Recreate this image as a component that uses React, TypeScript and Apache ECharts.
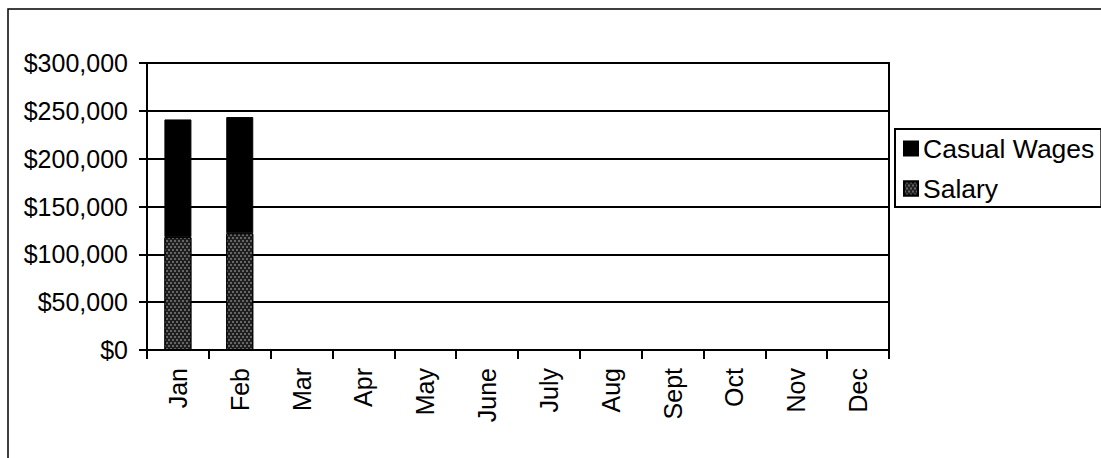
import React, { useEffect, useRef } from "react";
import * as echarts from "echarts";

const months = ["Jan", "Feb", "Mar", "Apr", "May", "June", "July", "Aug", "Sept", "Oct", "Nov", "Dec"];
const salary = [118000, 122000];
const casualWages = [123000, 121500];
const yTicks = { min: 0, max: 300000, interval: 50000 };

const FONT = "'Liberation Sans', Arial, sans-serif";

export default function App() {
  const ref = useRef<HTMLDivElement>(null);
  useEffect(() => {
    if (!ref.current) return;
    const chart = echarts.init(ref.current, undefined, { renderer: "svg" });
    chart.setOption({
      animation: false,
      backgroundColor: "#ffffff",
      textStyle: { fontFamily: FONT, color: "#000" },
      grid: {
        left: 147,
        top: 63,
        right: 1101 - 889,
        bottom: 458 - 350,
        show: true,
        borderColor: "#000",
        borderWidth: 2,
        backgroundColor: "transparent",
      },
      legend: {
        orient: "vertical",
        left: 895,
        top: 129,
        data: ["Casual Wages", "Salary"],
        icon: "rect",
        itemWidth: 14,
        itemHeight: 14,
        itemGap: 13,
        padding: [6, 7, 5, 8],
        borderColor: "#000",
        borderWidth: 2,
        backgroundColor: "#fff",
        textStyle: { fontFamily: FONT, fontSize: 26.5, color: "#000" },
      },
      xAxis: {
        type: "category",
        data: months,
        boundaryGap: true,
        axisLine: { lineStyle: { color: "#000", width: 2 } },
        axisTick: { show: true, length: 9, lineStyle: { color: "#000", width: 2 } },
        axisLabel: { rotate: 90, margin: 18, fontSize: 25, fontFamily: FONT, color: "#000" },
        splitLine: { show: false },
      },
      yAxis: {
        type: "value",
        min: yTicks.min,
        max: yTicks.max,
        interval: yTicks.interval,
        axisLine: { show: true, lineStyle: { color: "#000", width: 2 } },
        axisTick: { show: true, length: 8, lineStyle: { color: "#000", width: 2 } },
        axisLabel: {
          margin: 19,
          fontSize: 25,
          fontFamily: FONT,
          color: "#000",
          formatter: (v: number) => "$" + v.toLocaleString("en-US"),
        },
        splitLine: { show: true, lineStyle: { color: "#000", width: 2 } },
      },
      series: [
        {
          name: "Salary",
          type: "bar",
          stack: "total",
          data: salary,
          barWidth: 27,
          itemStyle: {
            color: "#1e1e1e",
            borderColor: "#000",
            borderWidth: 1,
            decal: {
              symbol: "rect",
              symbolSize: 1,
              color: "rgba(255,255,255,0.32)",
              dashArrayX: [[2, 2], [0, 2, 2, 0]],
              dashArrayY: [2, 1],
              rotation: 0,
            },
          },
        },
        {
          name: "Casual Wages",
          type: "bar",
          stack: "total",
          data: casualWages,
          barWidth: 27,
          itemStyle: { color: "#000", borderColor: "#000", borderWidth: 1 },
        },
      ],
      graphic: [
        {
          type: "rect",
          silent: true,
          shape: { x: 8, y: 9, width: 1200, height: 600 },
          style: { fill: "none", stroke: "#000", lineWidth: 1.5 },
        },
      ],
    });
    return () => chart.dispose();
  }, []);
  return (
    <div
      ref={ref}
      style={{ position: "fixed", left: 0, top: 0, width: 1101, height: 458, background: "#fff" }}
    />
  );
}
